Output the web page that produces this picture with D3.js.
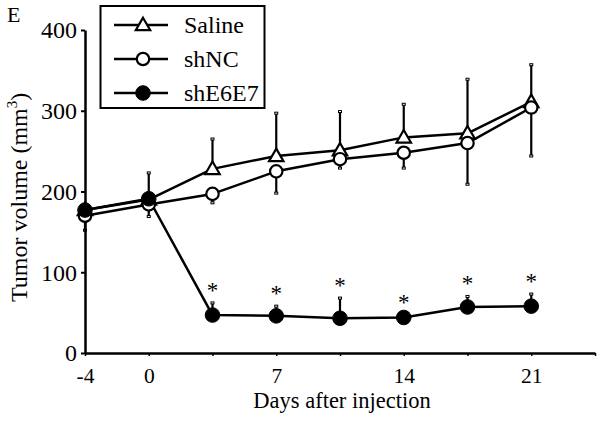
<!DOCTYPE html>
<html>
<head>
<meta charset="utf-8">
<script src="https://cdn.jsdelivr.net/npm/d3@7"></script>
<style>
  html, body { margin: 0; padding: 0; background: #fff; }
  svg { display: block; }
  text { font-family: "Liberation Serif", "Times New Roman", serif; fill: #000; }
</style>
</head>
<body>
<svg id="chart" width="602" height="422"></svg>
<script>
// ---- data ----
const slots = ["-4", "0", "3.5", "7", "10.5", "14", "17.5", "21", "end"];
const tickLabels = ["-4", "0", "", "7", "", "14", "", "21", ""];
const days = ["-4", "0", "3.5", "7", "10.5", "14", "17.5", "21"];
const yTicks = [0, 100, 200, 300, 400];

const saline       = [177, 190, 228, 244, 251, 267, 272, 311];
const salineErrUp  = [0, 33, 37, 53, 48, 41, 67, 46];
const shNC         = [170, 184, 197, 225, 240, 248, 260, 304];
const shNCErrDown  = [18, 15, 11, 27, 11, 19, 51, 60];
const shE6E7       = [177, 191, 47, 46, 43, 44, 57, 58];
const shE6E7ErrUp  = [0, 0, 15, 12, 25, 3, 13, 15];
const significant  = [false, false, true, true, true, true, true, true];

const seriesNames = ["Saline", "shNC", "shE6E7"];

// ---- layout ----
const svg = d3.select("#chart");
const x = d3.scalePoint().domain(slots).range([85, 595]);
const y = d3.scaleLinear().domain([0, 400]).range([353, 30]);

const LW = 2.5;

// error bars
function errBars(vals, errs, dir) {
  const g = svg.append("g");
  days.forEach((d, i) => {
    if (!errs[i]) return;
    const y0 = y(vals[i]);
    const y1 = y(vals[i] + dir * errs[i]);
    g.append("line").attr("x1", x(d)).attr("x2", x(d))
      .attr("y1", y0).attr("y2", y1)
      .attr("stroke", "#000").attr("stroke-width", 2.2);
    g.append("rect").attr("x", x(d) - 1.5).attr("y", y1 - 1)
      .attr("width", 3).attr("height", 2)
      .attr("fill", "#fff").attr("stroke", "#000").attr("stroke-width", 1);
  });
}
errBars(saline, salineErrUp, 1);
errBars(shNC, shNCErrDown, -1);
errBars(shE6E7, shE6E7ErrUp, 1);

// axes
const yAxis = d3.axisLeft(y).tickValues(yTicks).tickSize(4).tickPadding(4).tickSizeOuter(0);
const gy = svg.append("g").attr("transform", `translate(${x(slots[0])},0)`).call(yAxis);
gy.select(".domain").attr("stroke", "#000").attr("stroke-width", LW);
gy.selectAll(".tick line").attr("stroke", "#000").attr("stroke-width", 2);
gy.selectAll(".tick text").attr("font-size", 24).attr("font-family", "Liberation Serif").attr("dy", "0.33em");

const xAxis = d3.axisBottom(x).tickFormat((d, i) => tickLabels[i]).tickSize(3).tickPadding(12).tickSizeOuter(0);
const gx = svg.append("g").attr("transform", `translate(0,${y(0)})`).call(xAxis);
gx.select(".domain").attr("stroke", "#000").attr("stroke-width", LW);
gx.selectAll(".tick line").attr("stroke", "#000").attr("stroke-width", 1.5);
gx.selectAll(".tick text").attr("font-size", 21.5).attr("font-family", "Liberation Serif").attr("dy", "0.71em");

// lines
const line = d3.line().x((d, i) => x(days[i])).y(d => y(d));
[saline, shNC, shE6E7].forEach(s => {
  svg.append("path").datum(s).attr("d", line)
    .attr("fill", "none").attr("stroke", "#000").attr("stroke-width", LW)
    .attr("stroke-linejoin", "round");
});

// markers
const tri = d3.symbol().type(d3.symbolTriangle).size(90);
function drawMarker(g, type, cx, cy) {
  if (type === "Saline") {
    g.append("path").attr("d", tri()).attr("transform", `translate(${cx},${cy + 1})`)
      .attr("fill", "#fff").attr("stroke", "#000").attr("stroke-width", 2.2);
  } else if (type === "shNC") {
    g.append("circle").attr("cx", cx).attr("cy", cy).attr("r", 6.2)
      .attr("fill", "#fff").attr("stroke", "#000").attr("stroke-width", 2.2);
  } else {
    g.append("circle").attr("cx", cx).attr("cy", cy).attr("r", 7.3)
      .attr("fill", "#000").attr("stroke", "#000").attr("stroke-width", 1);
  }
}
const gm = svg.append("g");
[[saline, "Saline"], [shNC, "shNC"], [shE6E7, "shE6E7"]].forEach(([s, name]) => {
  s.forEach((v, i) => drawMarker(gm, name, x(days[i]), y(v)));
});

// significance stars
days.forEach((d, i) => {
  if (!significant[i]) return;
  const top = y(shE6E7[i] + shE6E7ErrUp[i]);
  svg.append("text").attr("x", x(d)).attr("y", top - 5)
    .attr("text-anchor", "middle").attr("font-size", 23).text("*");
});

// axis titles
svg.append("text").attr("x", 342).attr("y", 408).attr("text-anchor", "middle")
  .attr("font-size", 22.5).text("Days after injection");
const yl = svg.append("text").attr("transform", "translate(27,302) rotate(-90)")
  .attr("text-anchor", "start").attr("font-size", 24);
yl.append("tspan").text("Tumor volume (mm");
yl.append("tspan").attr("font-size", 15).attr("dy", -10).text("3");
yl.append("tspan").attr("dy", 10).text(")");

// panel letter
svg.append("text").attr("x", 7).attr("y", 22).attr("font-size", 22).text("E");

// legend
const lg = svg.append("g");
lg.append("rect").attr("x", 100.5).attr("y", 6).attr("width", 164).attr("height", 102)
  .attr("fill", "#fff").attr("stroke", "#000").attr("stroke-width", 2);
const rowsY = [25, 59, 93];
seriesNames.forEach((name, i) => {
  const ry = rowsY[i];
  lg.append("line").attr("x1", 114).attr("x2", 168).attr("y1", ry).attr("y2", ry)
    .attr("stroke", "#000").attr("stroke-width", LW);
  drawMarker(lg, name, 143, ry);
  lg.append("text").attr("x", 184).attr("y", ry + 8).attr("font-size", 24).text(name);
});
</script>
</body>
</html>
